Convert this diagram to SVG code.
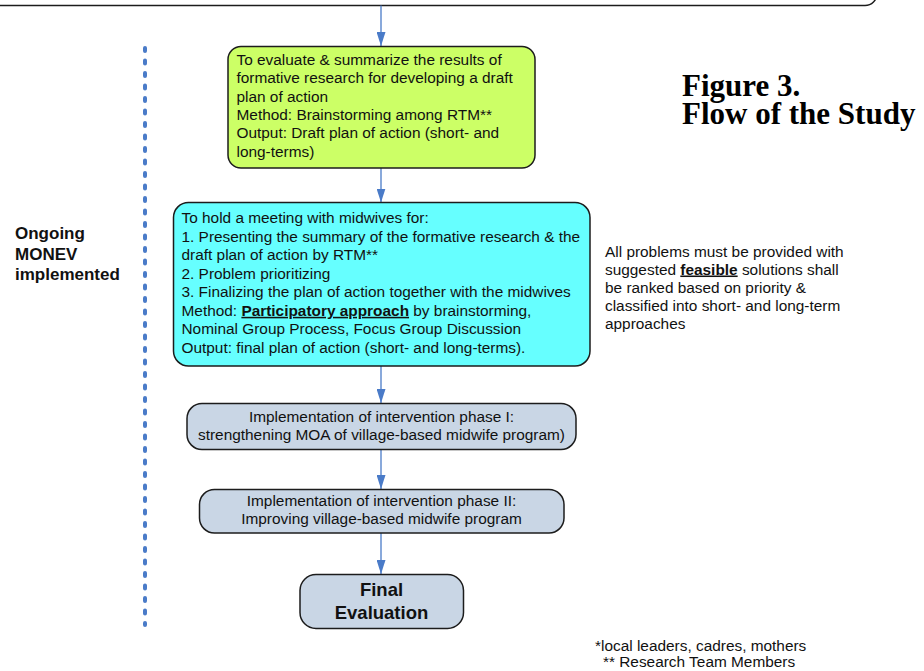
<svg xmlns="http://www.w3.org/2000/svg" width="924" height="671" viewBox="0 0 924 671">
  <style>
    .box { stroke: #1c1c1c; stroke-width: 1.5; }
    .green { fill: #ccff66; }
    .cyan { fill: #66ffff; }
    .steel { fill: #c9d6e5; }
    .txt { font-family: "Liberation Sans", Arial, sans-serif; font-size: 15.4px; fill: #111; }
    .mid { text-anchor: middle; }
    .b { font-weight: bold; }
    .u { text-decoration: underline; }
    .side { font-family: "Liberation Sans", Arial, sans-serif; font-size: 17px; font-weight: bold; fill: #111; }
    .title { font-family: "Liberation Serif", "Times New Roman", serif; font-size: 31px; font-weight: bold; fill: #000; }
    .conn { stroke: #4a7bc8; stroke-width: 1.3; fill: none; }
    .monev { stroke: #4a7bc8; stroke-width: 4; stroke-linecap: round; stroke-dasharray: 3 9.5; fill: none; }
  </style>
  <defs>
    <marker id="arrow" viewBox="0 0 14 9" markerWidth="14" markerHeight="9" markerUnits="userSpaceOnUse" refX="14" refY="4.5" orient="auto">
      <path d="M0,0 L14,4.5 L0,9 z" fill="#4a7bc8"/>
    </marker>
  </defs>

  <rect width="924" height="671" fill="#ffffff"/>

  <!-- previous stage box, mostly above the page edge -->
  <g id="previous-stage">
    <rect class="box" x="-20" y="-100" width="897" height="105.5" rx="12" fill="#ffffff"/>
  </g>

  <!-- ongoing monitoring and evaluation -->
  <g id="monev">
    <line class="monev" x1="145" y1="48" x2="145" y2="625"/>
    <text class="side" x="15" y="239">Ongoing</text>
    <text class="side" x="15" y="259.5">MONEV</text>
    <text class="side" x="15" y="280">implemented</text>
  </g>

  <g id="title">
    <text class="title" x="682"><tspan x="682" y="96">Figure 3.</tspan><tspan x="682" y="123.5">Flow of the Study</tspan></text>
  </g>

  <g id="connectors">
    <line class="conn" x1="381" y1="5.5" x2="381" y2="46" marker-end="url(#arrow)"/>
    <line class="conn" x1="381" y1="168" x2="381" y2="202.5" marker-end="url(#arrow)"/>
    <line class="conn" x1="381" y1="366" x2="381" y2="403" marker-end="url(#arrow)"/>
    <line class="conn" x1="381" y1="449.5" x2="381" y2="489" marker-end="url(#arrow)"/>
    <line class="conn" x1="381" y1="533" x2="381" y2="574" marker-end="url(#arrow)"/>
  </g>

  <g id="draft-plan">
    <rect class="box green" x="228" y="46.5" width="307" height="121.5" rx="13"/>
    <text class="txt" x="236.5" y="65">To evaluate &amp; summarize the results of</text>
    <text class="txt" x="236.5" y="83.3">formative research for developing a draft</text>
    <text class="txt" x="236.5" y="101.7">plan of action</text>
    <text class="txt" x="236.5" y="120">Method: Brainstorming among RTM**</text>
    <text class="txt" x="236.5" y="138.3">Output: Draft plan of action (short- and</text>
    <text class="txt" x="236.5" y="156.7">long-terms)</text>
  </g>

  <g id="midwife-meeting">
    <rect class="box cyan" x="173.5" y="202.5" width="416.5" height="163.5" rx="15"/>
    <text class="txt" x="181.5" y="223.3">To hold a meeting with midwives for:</text>
    <text class="txt" x="181.5" y="241.8">1. Presenting the summary of the formative research &amp; the</text>
    <text class="txt" x="181.5" y="260.3">draft plan of action by RTM**</text>
    <text class="txt" x="181.5" y="278.8">2. Problem prioritizing</text>
    <text class="txt" x="181.5" y="297.3">3. Finalizing the plan of action together with the midwives</text>
    <text class="txt" x="181.5" y="315.8">Method: <tspan class="b u">Participatory approach</tspan> by brainstorming,</text>
    <text class="txt" x="181.5" y="334.3">Nominal Group Process, Focus Group Discussion</text>
    <text class="txt" x="181.5" y="352.8">Output: final plan of action (short- and long-terms).</text>
  </g>

  <g id="solutions-note">
    <text class="txt" x="605" y="256.5">All problems must be provided with</text>
    <text class="txt" x="605" y="274.5">suggested <tspan class="b u">feasible</tspan> solutions shall</text>
    <text class="txt" x="605" y="292.5">be ranked based on priority &amp;</text>
    <text class="txt" x="605" y="310.5">classified into short- and long-term</text>
    <text class="txt" x="605" y="328.5">approaches</text>
  </g>

  <g id="phase-1">
    <rect class="box steel" x="187" y="403.5" width="389" height="46" rx="15"/>
    <text class="txt mid" x="381.5" y="421.7">Implementation of intervention phase I:</text>
    <text class="txt mid" x="381.5" y="440">strengthening MOA of village-based midwife program)</text>
  </g>

  <g id="phase-2">
    <rect class="box steel" x="199.5" y="489.5" width="364.5" height="43.5" rx="15"/>
    <text class="txt mid" x="381.5" y="505.5">Implementation of intervention phase II:</text>
    <text class="txt mid" x="381.5" y="524">Improving village-based midwife program</text>
  </g>

  <g id="final-evaluation">
    <rect class="box steel" x="300" y="574.5" width="163.5" height="54" rx="16"/>
    <text class="txt mid b" x="381.5" y="596" style="font-size:18.5px">Final</text>
    <text class="txt mid b" x="381.5" y="618.5" style="font-size:18.5px">Evaluation</text>
  </g>

  <g id="footnotes">
    <text class="txt" x="595" y="650.7">*local leaders, cadres, mothers</text>
    <text class="txt" x="603" y="666.7">** Research Team Members</text>
  </g>
</svg>
